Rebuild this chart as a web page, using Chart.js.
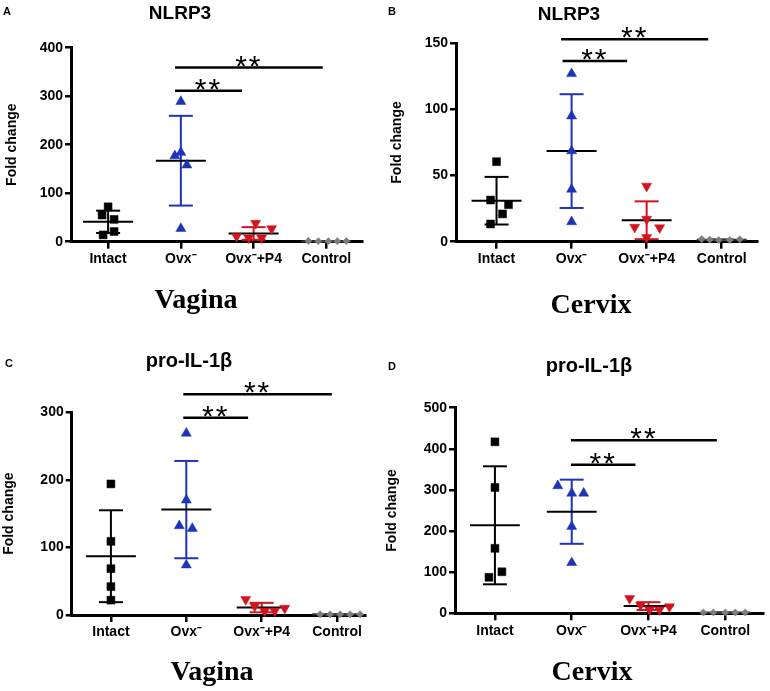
<!DOCTYPE html>
<html><head><meta charset="utf-8">
<script src="https://cdn.jsdelivr.net/npm/chart.js@4.4.0/dist/chart.umd.min.js"></script>
<style>
body{margin:0;background:#fff;width:770px;height:691px;position:relative;overflow:hidden;font-family:"Liberation Sans",Arial,sans-serif;}
canvas{position:absolute;}
.t{position:absolute;white-space:nowrap;line-height:1;font-weight:bold;color:#000;z-index:2;}
.ttl{font-size:19px;transform:translateX(-50%);}
.ttl2{font-size:20px;transform:translateX(-50%);}
.let{font-size:11px;}
.tis{font-family:"Liberation Serif","Times New Roman",serif;font-size:28px;transform:translateX(-50%);}
</style></head><body>
<canvas id="cA" width="385" height="340" style="left:0;top:0"></canvas>
<canvas id="cB" width="385" height="340" style="left:385px;top:0"></canvas>
<canvas id="cC" width="385" height="351" style="left:0;top:340px"></canvas>
<canvas id="cD" width="385" height="351" style="left:385px;top:340px"></canvas>

<div class="t let" style="left:3px;top:5.7px">A</div>
<div class="t let" style="left:388px;top:5.7px">B</div>
<div class="t let" style="left:5px;top:357.7px">C</div>
<div class="t let" style="left:388px;top:360.7px">D</div>
<div class="t ttl" style="left:180px;top:3.2px">NLRP3</div>
<div class="t ttl" style="left:569px;top:4.2px">NLRP3</div>
<div class="t ttl2" style="left:189px;top:350px">pro-IL-1β</div>
<div class="t ttl2" style="left:589px;top:355px">pro-IL-1β</div>
<div class="t tis" style="left:196px;top:284.5px">Vagina</div>
<div class="t tis" style="left:591px;top:289.5px">Cervix</div>
<div class="t tis" style="left:212px;top:656.5px">Vagina</div>
<div class="t tis" style="left:592px;top:657px">Cervix</div>

<script>
// ---------- DATA ----------
const categories = ['Intact', 'Ovx⁻', 'Ovx⁻+P4', 'Control'];

// A: NLRP3 – Vagina
const aIntact  = [72, 55, 46, 21, 14];
const aOvx     = [289, 177, 184, 158, 27];
const aOvxP4   = [11, 8, 38, 8, 27];
const aControl = [1.5, 1, 1, 1, 1.2];
const aMean    = [41, 167, 17, 1];
const aSD      = [23, 92.5, 13, 0.4];
const aYTicks  = [0, 100, 200, 300, 400];
const aSig     = [[0.92, 2.95, 359, '**'], [0.92, 1.84, 311, '**']];

// B: NLRP3 – Cervix
const bIntact  = [60.5, 31.5, 28, 21, 13.4];
const bOvx     = [127, 95, 68.6, 39.6, 15];
const bOvxP4   = [42, 17, 11, 10.6, 3.3];
const bControl = [2, 1.5, 1.2, 1.3, 1.8];
const bMean    = [31, 68.5, 16.2, 1.5];
const bSD      = [18, 43, 14.3, 0.3];
const bYTicks  = [0, 50, 100, 150];
const bSig     = [[0.86, 2.82, 153, '**'], [0.88, 1.74, 136.6, '**']];

// C: pro-IL-1β – Vagina
const cIntact  = [194, 109, 68.6, 42, 22];
const cOvx     = [269, 170, 132, 128, 74];
const cOvxP4   = [23, 13, 6, 6, 10];
const cControl = [1, 1, 1, 1, 1];
const cMean    = [87, 156, 11, 1];
const cSD      = [68, 72, 7, 0.3];
const cYTicks  = [0, 100, 200, 300];
const cSig     = [[0.96, 2.93, 326.6, '**'], [0.96, 1.82, 292, '**']];

// D: pro-IL-1β – Cervix
const dIntact  = [417, 306, 158, 101, 87.5];
const dOvx     = [310, 292, 292, 211, 123];
const dOvxP4   = [36, 20, 9, 9, 16];
const dControl = [2, 2, 2, 2, 2];
const dMean    = [214, 247, 17.5, 2];
const dSD      = [143.5, 78, 9.5, 0.4];
const dYTicks  = [0, 100, 200, 300, 400, 500];
const dSig     = [[0.99, 2.89, 421, '**'], [0.99, 1.83, 361, '**']];

// ---------- STYLE / LAYOUT ----------
const FONT = '"Liberation Sans", Arial, sans-serif';
const BLUE = '#1f33b8', RED = '#d2141e', GRAY = '#7d7d7d';
const groupStyles = [
  {pointStyle:'rect',     radius:5.6, rotation:0,   fill:'#000', sd:'#000'},
  {pointStyle:'triangle', radius:5.8, rotation:0,   fill:BLUE,   sd:BLUE},
  {pointStyle:'triangle', radius:5.8, rotation:180, fill:RED,    sd:RED},
  {pointStyle:'rectRot',  radius:3.6, rotation:0,   fill:GRAY,   sd:'#555'}
];
const MEAN_HALF_PX = 25, CAP_HALF_PX = 12;

const panels = [
  {id:'cA', groups:[aIntact,aOvx,aOvxP4,aControl], mean:aMean, sd:aSD, yTicks:aYTicks, sig:aSig,
   L:{w:385,h:340,left:71,top:47.7,right:362,bottom:241.7,xmin:-0.51,xmax:3.49,titlePad:5},
   jitter:[[0,-6,6,6,-5],[0,-6,0,6,0],[-17,-5,2,8,18],[-18,-8,2,11,20]]},
  {id:'cB', groups:[bIntact,bOvx,bOvxP4,bControl], mean:bMean, sd:bSD, yTicks:bYTicks, sig:bSig,
   L:{w:385,h:340,left:71,top:43.3,right:372,bottom:241.7,xmin:-0.54,xmax:3.47,titlePad:5.5},
   jitter:[[0,-6,12,6,-6],[0,0,0,0,0],[0,0,-12,13,0],[-20,-12,-3,8,18]]},
  {id:'cC', groups:[cIntact,cOvx,cOvxP4,cControl], mean:cMean, sd:cSD, yTicks:cYTicks, sig:cSig,
   L:{w:385,h:351,left:71.7,top:72.3,right:365,bottom:275,xmin:-0.52,xmax:3.37,titlePad:2},
   jitter:[[0,0,0,0,0],[0,0,-7,6,0],[-16,-7,3,13,23],[-17,-7,3,13,23]]},
  {id:'cD', groups:[dIntact,dOvx,dOvxP4,dControl], mean:dMean, sd:dSD, yTicks:dYTicks, sig:dSig,
   L:{w:385,h:351,left:70,top:67.7,right:380,bottom:273.3,xmin:-0.52,xmax:3.5,titlePad:0.5},
   jitter:[[0,0,0,7,-6],[-14,0,12,0,0],[-19,-8,1,11,21],[-22,-12,0,10,20]]}
];

function lineDs(points, color, width, order) {
  return {data: points, showLine: true, pointRadius: 0, pointHoverRadius: 0,
          borderColor: color, borderWidth: width, clip: false, order: order,
          borderCapStyle: 'butt'};
}

function build(P) {
  const L = P.L;
  const ppu = (L.right - L.left) / (L.xmax - L.xmin);
  const mh = MEAN_HALF_PX / ppu, ch = CAP_HALF_PX / ppu;
  const datasets = [];
  P.groups.forEach((vals, g) => {
    const st = groupStyles[g];
    datasets.push({
      data: vals.map((v, k) => ({x: g + P.jitter[g][k] / ppu, y: v})),
      pointStyle: st.pointStyle, pointRadius: st.radius, pointHoverRadius: st.radius,
      pointRotation: st.rotation, backgroundColor: st.fill,
      borderColor: st.fill, borderWidth: 0.5, showLine: false, clip: false, order: 0
    });
  });
  P.mean.forEach((m, g) => {
    const st = groupStyles[g];
    const hi = m + P.sd[g], lo = Math.max(0, m - P.sd[g]);
    datasets.push(lineDs([{x:g-mh,y:m},{x:g+mh,y:m}], g === 3 ? '#333' : '#000', 2, 1));
    datasets.push(lineDs([{x:g,y:hi},{x:g,y:lo}], st.sd, 2, 2));
    datasets.push(lineDs([{x:g-ch,y:hi},{x:g+ch,y:hi}], st.sd, 2, 2));
    datasets.push(lineDs([{x:g-ch,y:lo},{x:g+ch,y:lo}], st.sd, 2, 2));
  });
  P.sig.forEach(([x1, x2, v]) => {
    datasets.push(lineDs([{x:x1,y:v},{x:x2,y:v}], '#000', 2.5, 2));
  });

  const stars = {
    id: 'stars' + P.id,
    afterDatasetsDraw(chart) {
      const {ctx} = chart; const xs = chart.scales.x, ys = chart.scales.y;
      ctx.save();
      ctx.font = '30px ' + FONT;
      ctx.fillStyle = '#000';
      ctx.textAlign = 'center';
      ctx.textBaseline = 'alphabetic';
      if ('letterSpacing' in ctx) ctx.letterSpacing = '2px';
      P.sig.forEach(([x1, x2, v, label]) => {
        ctx.fillText(label, xs.getPixelForValue((x1 + x2) / 2), ys.getPixelForValue(v) + 8);
      });
      ctx.restore();
    }
  };

  const tickFont = {family: FONT, size: 14, weight: 'bold'};
  new Chart(document.getElementById(P.id), {
    type: 'scatter',
    data: {datasets},
    plugins: [stars],
    options: {
      responsive: false, animation: false, devicePixelRatio: 1, events: [],
      layout: {padding: {left: 0, top: L.top, right: L.w - L.right, bottom: L.h - L.bottom - 30}},
      plugins: {legend: {display: false}, tooltip: {enabled: false}, title: {display: false}},
      scales: {
        x: {
          type: 'linear', min: L.xmin, max: L.xmax, offset: false,
          afterBuildTicks: s => { s.ticks = categories.map((c, i) => ({value: i})); },
          afterFit: s => { s.height = 30; },
          ticks: {callback: v => categories[v], font: tickFont, color: '#000', padding: 2,
                  maxRotation: 0, autoSkip: false},
          grid: {drawOnChartArea: false, drawTicks: true, tickLength: 7, color: '#000', lineWidth: 2.5},
          border: {display: true, color: '#000', width: 3}
        },
        y: {
          type: 'linear', min: 0, max: P.yTicks[P.yTicks.length - 1],
          afterBuildTicks: s => { s.ticks = P.yTicks.map(v => ({value: v})); },
          afterFit: s => { s.width = L.left; },
          ticks: {font: tickFont, color: '#000', padding: 2},
          grid: {drawOnChartArea: false, drawTicks: true, tickLength: 6, color: '#000', lineWidth: 2.5},
          border: {display: true, color: '#000', width: 3},
          title: {display: true, text: 'Fold change', color: '#000',
                  font: {family: FONT, size: 14, weight: 'bold', lineHeight: 1},
                  padding: {top: L.titlePad, bottom: 0}}
        }
      }
    }
  });
}
panels.forEach(build);
</script>
</body></html>
